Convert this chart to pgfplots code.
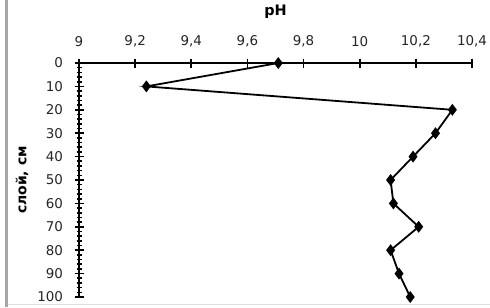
\documentclass[border=0pt]{standalone}
\usepackage{fontspec}
\setmainfont{DejaVu Sans}
\usepackage{pgfplots}
\pgfplotsset{compat=1.18}
\begin{document}
\begin{tikzpicture}[x=1bp,y=1bp]
\path[use as bounding box,fill=white] (0,0) rectangle (490,-307);
\draw[gray!70,line width=3bp] (6,0) -- (6,-307);
\draw[gray!25,line width=1bp] (8,-304) -- (490,-304);
\begin{axis}[
  at={(79bp,-63bp)}, anchor=north west,
  scale only axis, width=393bp, height=234bp,
  xmin=9, xmax=10.4, ymin=0, ymax=100,
  y dir=reverse,
  axis x line=top, axis y line=left,
  axis line style={-, line width=2bp},
  xtick={9,9.2,9.4,9.6,9.8,10,10.2,10.4},
  xticklabels={9,{9,2},{9,4},{9,6},{9,8},10,{10,2},{10,4}},
  ytick={0,10,...,100},
  minor y tick num=4,
  tick align=center,
  major tick length=9bp, minor tick length=5bp,
  tick style={line width=1.6bp, black},
  tick label style={font=\fontsize{13.5}{15}\selectfont, text=black!85},
  /pgf/number format/assume math mode=true,
  xticklabel style={yshift=8bp},
  yticklabel style={xshift=-8bp},
  xlabel={\textbf{pH}}, xlabel style={font=\fontsize{14.5}{16}\selectfont, yshift=10bp},
  ylabel={\textbf{слой, см}}, ylabel style={font=\fontsize{14}{16}\selectfont, yshift=2bp},
  clip=false,
]
\addplot[black, line width=1.8bp, mark=diamond*, mark size=4.5bp] coordinates {
(9.71,0) (9.24,10) (10.33,20) (10.27,30) (10.19,40) (10.11,50)
(10.12,60) (10.21,70) (10.11,80) (10.14,90) (10.18,100)
};
\end{axis}
\end{tikzpicture}
\end{document}
